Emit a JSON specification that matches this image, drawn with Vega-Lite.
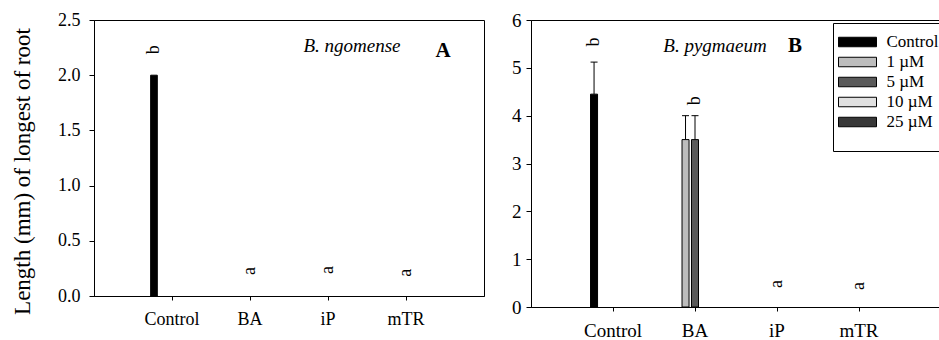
{
  "$schema": "https://vega.github.io/schema/vega-lite/v6.json",
  "background": "white",
  "padding": {"left": 10, "top": 10, "right": 0, "bottom": 0},
  "config": {
    "view": {"stroke": "black", "strokeWidth": 1},
    "axis": {
      "labelFont": "Liberation Serif", "titleFont": "Liberation Serif",
      "labelColor": "black", "titleColor": "black",
      "domainColor": "black", "tickColor": "black",
      "grid": false, "labelFontSize": 18, "titleFontWeight": "normal"
    },
    "text": {"font": "Liberation Serif", "color": "black"}
  },
  "datasets": {
    "barsA": [
      {"cat": "Control", "grp": "Control", "val": 2.0}
    ],
    "lettersA": [
      {"cat": "Control", "grp": "Control", "val": 2.23, "txt": "b"},
      {"cat": "BA", "grp": "5 µM", "val": 0.226, "txt": "a"},
      {"cat": "iP", "grp": "5 µM", "val": 0.235, "txt": "a"},
      {"cat": "mTR", "grp": "5 µM", "val": 0.21, "txt": "a"}
    ],
    "speciesA": [{"cat": "iP", "grp": "5 µM", "val": 2.26, "txt": "B. ngomense"}],
    "tagA": [{"cat": "mTR", "grp": "5 µM", "val": 2.22, "txt": "A"}],
    "barsB": [
      {"cat": "Control", "grp": "Control", "val": 4.45, "err": 5.12},
      {"cat": "BA", "grp": "1 µM", "val": 3.5, "err": 4.0},
      {"cat": "BA", "grp": "5 µM", "val": 3.5, "err": 4.0}
    ],
    "lettersB": [
      {"cat": "Control", "grp": "Control", "val": 5.54, "txt": "b"},
      {"cat": "BA", "grp": "5 µM", "val": 4.31, "txt": "b"},
      {"cat": "iP", "grp": "5 µM", "val": 0.48, "txt": "a"},
      {"cat": "mTR", "grp": "5 µM", "val": 0.44, "txt": "a"}
    ],
    "speciesB": [{"cat": "BA", "grp": "5 µM", "val": 5.46, "txt": "B. pygmaeum"}],
    "tagB": [{"cat": "iP", "grp": "5 µM", "val": 5.46, "txt": "B"}]
  },
  "spacing": 26,
  "resolve": {"scale": {"color": "independent", "y": "independent", "x": "independent", "xOffset": "independent"}},
  "hconcat": [
    {
      "width": 390,
      "height": 276,
      "encoding": {
        "x": {"field": "cat", "type": "nominal",
          "scale": {"domain": ["Control", "BA", "iP", "mTR"], "paddingInner": 0.42, "paddingOuter": 0.71},
          "axis": {"title": null, "labelAngle": 0, "tickSize": 4, "labelPadding": 10, "labelFontSize": 18}},
        "xOffset": {"field": "grp", "type": "nominal",
          "scale": {"domain": ["Control", "1 µM", "5 µM", "10 µM", "25 µM"], "paddingInner": 0.26, "paddingOuter": 0.14}},
        "y": {"field": "val", "type": "quantitative",
          "scale": {"domain": [0, 2.5]},
          "axis": {"title": "Length (mm) of longest of root", "values": [0, 0.5, 1, 1.5, 2, 2.5], "format": ".1f",
            "tickSize": 5, "labelPadding": 9, "titleFontSize": 23, "titleX": -60, "titleY": 151}}
      },
      "layer": [
        {
          "data": {"name": "barsA"},
          "mark": {"type": "bar", "stroke": "black", "strokeWidth": 1},
          "encoding": {
            "color": {"field": "grp", "type": "nominal",
              "scale": {"domain": ["Control", "1 µM", "5 µM", "10 µM", "25 µM"], "range": ["#000000", "#bdbdbd", "#5a5a5a", "#e0e0e0", "#383838"]},
              "legend": null}
          }
        },
        {
          "data": {"name": "lettersA"},
          "mark": {"type": "text", "angle": 270, "fontSize": 18, "baseline": "middle", "align": "center"},
          "encoding": {"text": {"field": "txt"}}
        },
        {
          "data": {"name": "speciesA"},
          "mark": {"type": "text", "fontSize": 19, "fontStyle": "italic", "baseline": "middle", "align": "center", "dx": 24},
          "encoding": {"text": {"field": "txt"}}
        },
        {
          "data": {"name": "tagA"},
          "mark": {"type": "text", "fontSize": 21, "fontWeight": "bold", "baseline": "middle", "align": "center", "dx": 37},
          "encoding": {"text": {"field": "txt"}}
        }
      ]
    },
    {
      "width": 410,
      "height": 287,
      "encoding": {
        "x": {"field": "cat", "type": "nominal",
          "scale": {"domain": ["Control", "BA", "iP", "mTR"], "paddingInner": 0.42, "paddingOuter": 0.71},
          "axis": {"title": null, "labelAngle": 0, "tickSize": 4, "labelPadding": 10, "labelFontSize": 19}},
        "xOffset": {"field": "grp", "type": "nominal",
          "scale": {"domain": ["Control", "1 µM", "5 µM", "10 µM", "25 µM"], "paddingInner": 0.26, "paddingOuter": 0.14}},
        "y": {"field": "val", "type": "quantitative",
          "scale": {"domain": [0, 6]},
          "axis": {"title": null, "values": [0, 1, 2, 3, 4, 5, 6], "format": "d", "tickSize": 5, "labelPadding": 5, "labelFontSize": 19}}
      },
      "layer": [
        {
          "data": {"name": "barsB"},
          "mark": {"type": "rule", "color": "black", "strokeWidth": 1},
          "encoding": {"y2": {"field": "err"}}
        },
        {
          "data": {"name": "barsB"},
          "mark": {"type": "tick", "color": "black", "thickness": 1, "size": 7, "opacity": 1},
          "encoding": {"y": {"field": "err", "type": "quantitative", "axis": {"title": null}}}
        },
        {
          "data": {"name": "barsB"},
          "mark": {"type": "bar", "stroke": "black", "strokeWidth": 1},
          "encoding": {
            "color": {"field": "grp", "type": "nominal",
              "scale": {"domain": ["Control", "1 µM", "5 µM", "10 µM", "25 µM"], "range": ["#000000", "#bdbdbd", "#5a5a5a", "#e0e0e0", "#383838"]},
              "legend": {
                "orient": "none", "legendX": 302, "legendY": 3,
                "title": " ", "titleOrient": "bottom", "titleFontSize": 10, "titlePadding": 2,
                "symbolType": "M-2,-0.5H2V0.5H-2Z", "symbolSize": 361,
                "symbolStrokeColor": "black", "symbolStrokeWidth": 1, "symbolOpacity": 1,
                "labelFont": "Liberation Serif", "labelFontSize": 17, "labelColor": "black",
                "strokeColor": "black", "fillColor": "white",
                "padding": 9, "rowPadding": 2, "symbolOffset": 5.5, "labelOffset": 19
              }}
          }
        },
        {
          "data": {"name": "lettersB"},
          "mark": {"type": "text", "angle": 270, "fontSize": 18, "baseline": "middle", "align": "center"},
          "encoding": {"text": {"field": "txt"}}
        },
        {
          "data": {"name": "speciesB"},
          "mark": {"type": "text", "fontSize": 19, "fontStyle": "italic", "baseline": "middle", "align": "center", "dx": 20},
          "encoding": {"text": {"field": "txt"}}
        },
        {
          "data": {"name": "tagB"},
          "mark": {"type": "text", "fontSize": 21, "fontWeight": "bold", "baseline": "middle", "align": "center", "dx": 18},
          "encoding": {"text": {"field": "txt"}}
        }
      ]
    }
  ]
}
